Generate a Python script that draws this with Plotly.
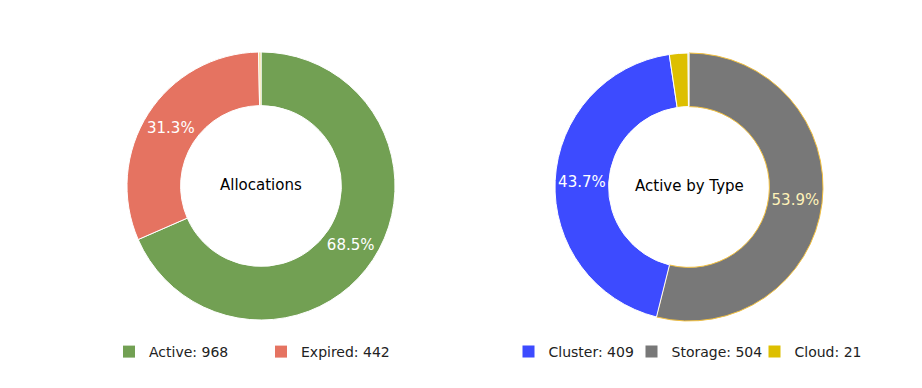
import plotly.graph_objects as go

# Left donut: Allocations
alloc_labels = ["Active", "Expired", "Other"]
alloc_values = [968, 442, 4]
alloc_colors = ["#72A053", "#E57361", "#F3D98E"]
alloc_show_text = [True, True, False]

# Right donut: Active by Type
type_labels = ["Cluster", "Storage", "Cloud", "Other"]
type_values = [409, 504, 21, 1]
type_colors = ["#3D4BFF", "#787878", "#DDBF00", "#7EBBE8"]
type_show_text = [True, True, False, False]
type_text_colors = ["white", "#FFF3B8", "white", "white"]
type_line_colors = ["white", "#F2C040", "white", "white"]

FONT = "DejaVu Sans"
W, H = 922, 388
OFF = 8  # page body margin offset


def px_x(x):
    return (x - OFF) / W


def px_y(y):
    return (H - (y - OFF)) / H


fig = go.Figure()

fig.add_trace(go.Pie(
    labels=alloc_labels, values=alloc_values, hole=0.6, sort=True,
    direction="clockwise", rotation=0,
    marker=dict(colors=alloc_colors, line=dict(color="white", width=1)),
    texttemplate=["%{percent:.1%}" if s else "" for s in alloc_show_text],
    textposition="inside", insidetextorientation="horizontal",
    textfont=dict(family=FONT, size=15, color="white"),
    domain=dict(x=[px_x(127), px_x(395)], y=[px_y(320), px_y(52)]),
    showlegend=False, hoverinfo="label+value+percent",
))

fig.add_trace(go.Pie(
    labels=type_labels, values=type_values, hole=0.6, sort=True,
    direction="clockwise", rotation=0,
    marker=dict(colors=type_colors, line=dict(color=type_line_colors, width=1)),
    texttemplate=["%{percent:.1%}" if s else "" for s in type_show_text],
    textposition="inside", insidetextorientation="horizontal",
    textfont=dict(family=FONT, size=15, color=type_text_colors),
    domain=dict(x=[px_x(555), px_x(823)], y=[px_y(321), px_y(53)]),
    showlegend=False, hoverinfo="label+value+percent",
))

# legend entries
for lab, val, col in zip(alloc_labels[:2], alloc_values[:2], alloc_colors[:2]):
    fig.add_trace(go.Scatter(x=[None], y=[None], mode="markers",
                             marker=dict(symbol="square", size=12, color=col),
                             name=f"{lab}: {val}", legend="legend"))
for lab, val, col in zip(type_labels[:3], type_values[:3], type_colors[:3]):
    fig.add_trace(go.Scatter(x=[None], y=[None], mode="markers",
                             marker=dict(symbol="square", size=12, color=col),
                             name=f"{lab}: {val}", legend="legend2"))

fig.update_layout(
    width=W, height=H,
    margin=dict(l=0, r=0, t=0, b=0),
    paper_bgcolor="white", plot_bgcolor="white",
    font=dict(family=FONT, size=14, color="#222222"),
    xaxis=dict(visible=False), yaxis=dict(visible=False),
    legend=dict(orientation="h", x=px_x(261), xanchor="center", y=px_y(352),
                yanchor="middle", font=dict(size=14, color="#222222"),
                entrywidth=107, bgcolor="rgba(0,0,0,0)"),
    legend2=dict(orientation="h", x=px_x(693), xanchor="center", y=px_y(352),
                 yanchor="middle", font=dict(size=14, color="#222222"),
                 entrywidth=78, bgcolor="rgba(0,0,0,0)"),
    annotations=[
        dict(text="Allocations", x=px_x(261), y=px_y(185), xref="paper", yref="paper",
             xanchor="center", yanchor="middle",
             showarrow=False, font=dict(family=FONT, size=15, color="black")),
        dict(text="Active by Type", x=px_x(689), y=px_y(186), xref="paper", yref="paper",
             xanchor="center", yanchor="middle",
             showarrow=False, font=dict(family=FONT, size=15, color="black")),
    ],
)

fig.write_html("out.html")
